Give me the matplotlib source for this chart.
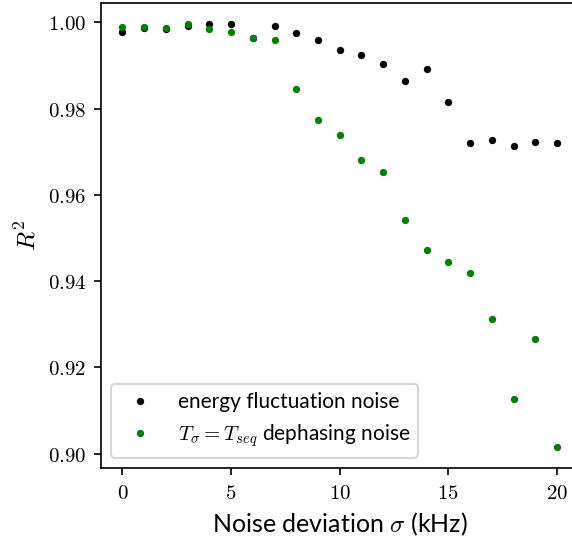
import matplotlib
matplotlib.use('Agg')
from matplotlib import pyplot as plt
from matplotlib.ticker import FuncFormatter

# noise deviation sigma (kHz)
sigma = list(range(21))

# R^2 for energy fluctuation noise
r2_energy = [0.9977, 0.9987, 0.9984, 0.9991, 0.9996, 0.9996, 0.9963, 0.9992, 0.9974, 0.9959,
             0.9935, 0.9924, 0.9902, 0.9863, 0.9891, 0.9816, 0.9720, 0.9727, 0.9713, 0.9723, 0.9720]

# R^2 for T_sigma = T_seq dephasing noise
r2_dephasing = [0.9988, 0.9988, 0.9987, 0.9995, 0.9985, 0.9977, 0.9963, 0.9959, 0.9845, 0.9774,
                0.9738, 0.9680, 0.9652, 0.9541, 0.9473, 0.9444, 0.9420, 0.9312, 0.9126, 0.9266, 0.9016]

plt.rcParams['font.family'] = ['Lato', 'DejaVu Sans']
plt.rcParams['mathtext.fontset'] = 'cm'
plt.rcParams['font.size'] = 10

fig = plt.figure(figsize=(572 / 150, 541 / 150), dpi=150)
ax = fig.add_axes([0.176, 0.1349, 0.8358, 0.860])

ax.plot(sigma, r2_energy, '.', color='k', markersize=5, label='energy fluctuation noise')
ax.plot(sigma, r2_dephasing, '.', color='g', markersize=5, label=r'$T_\sigma = T_{seq}$ dephasing noise')

ax.set_xlim(-1, 21)
ax.set_xticks([0, 5, 10, 15, 20])
ax.set_yticks([0.90, 0.92, 0.94, 0.96, 0.98, 1.00])
ax.xaxis.set_major_formatter(FuncFormatter(lambda v, p: '$%d$' % round(v)))
ax.yaxis.set_major_formatter(FuncFormatter(lambda v, p: '$%.2f$' % v))

ax.set_xlabel(r'Noise deviation $\sigma$ (kHz)', fontsize=12)
ax.set_ylabel(r'$R^2$', fontsize=12)
ax.legend(loc='lower left')

plt.savefig('out.png', dpi=150)
